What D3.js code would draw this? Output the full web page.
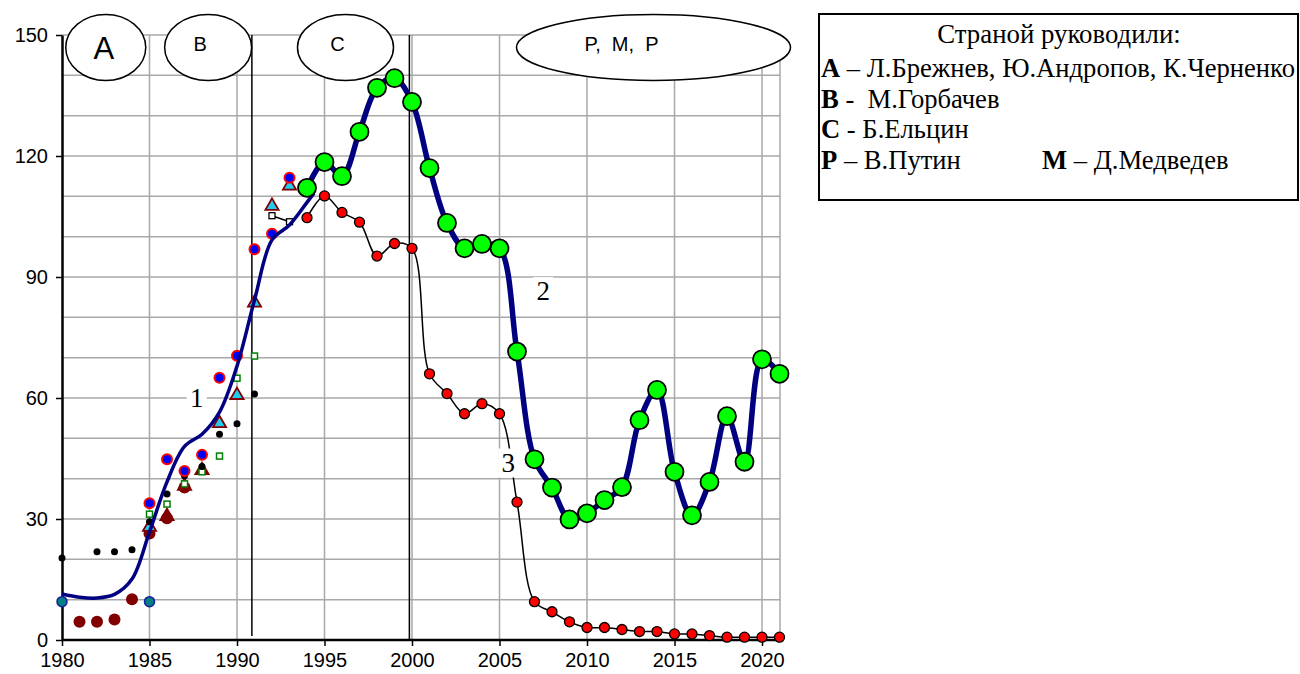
<!DOCTYPE html>
<html lang="ru">
<head>
<meta charset="UTF-8">
<script src="https://d3js.org/d3.v7.min.js"></script>
<title>Chart</title>
<style>
  body { margin: 0; background: #fff; }
  svg { display: block; }
  .serif { font-family: "Liberation Serif", "Times New Roman", serif; fill: #000; }
  .sans { font-family: "Liberation Sans", Arial, sans-serif; fill: #000; white-space: pre; }
</style>
</head>
<body>
<svg id="chart" width="1300" height="674"></svg>
<script>
// ---- data ----
// curve 1 (navy, no markers)
const curve1Years  = [1980, 1981, 1982, 1983, 1984, 1985, 1986, 1987, 1988, 1989, 1990, 1991, 1992, 1993, 1994, 1994.4];
const curve1Values = [11.4, 10.6, 10.4, 11.3, 15.1, 26.8, 39.2, 48, 51, 56.5, 67.9, 84.3, 99.2, 102.9, 108.5, 110.8];

// series 2 (green circles, thick navy line)
const s2Years  = d3.range(1994, 2022);
const s2Values = [112.1, 118.5, 115.0, 126.0, 136.9, 139.3, 133.4, 117.0, 103.4, 97.1, 98.2, 97.1,
                  71.5, 44.8, 37.8, 29.9, 31.4, 34.7, 37.9, 54.5, 62.0, 41.7, 30.9, 39.2, 55.5, 44.2, 69.6, 66.0];

// series 3 (small red circles, thin black line)
const s3Years  = d3.range(1994, 2022);
const s3Values = [104.7, 110.1, 106.0, 103.6, 95.2, 98.3, 97.1, 66.0, 61.1, 56.1, 58.6, 56.1,
                  34.2, 9.5, 7.0, 4.5, 3.1, 3.1, 2.6, 2.1, 2.1, 1.5, 1.5, 1.1, 0.7, 0.7, 0.7, 0.7];

// early scattered estimates
const blueYears  = [1985, 1986, 1987, 1988, 1989, 1990, 1991, 1992, 1993];
const blueValues = [33.9, 44.8, 41.9, 45.9, 65.0, 70.5, 96.9, 100.7, 114.6];

const cyanTriYears  = [1985, 1989, 1990, 1991, 1992, 1993];
const cyanTriValues = [28.0, 53.7, 60.7, 83.6, 107.6, 112.6];

const darkTriYears  = [1986, 1987, 1988];
const darkTriValues = [30.7, 38.2, 42.1];

const darkDotYears  = [1981, 1982, 1983, 1984, 1985, 1986, 1987];
const darkDotValues = [4.5, 4.5, 5.1, 10.1, 26.4, 30.2, 37.8];

const tealYears  = [1980, 1985];
const tealValues = [9.5, 9.5];

const blackDotYears  = [1980, 1982, 1983, 1984, 1985, 1986, 1987, 1988, 1989, 1990, 1991];
const blackDotValues = [20.3, 21.9, 21.9, 22.4, 29.3, 36.2, 40.7, 43.0, 51.0, 53.6, 61.0];

const greenSqYears  = [1985, 1986, 1987, 1988, 1989, 1990, 1991];
const greenSqValues = [31.2, 33.7, 38.7, 41.7, 45.6, 64.9, 70.4];

const blackSqYears  = [1992, 1993];
const blackSqValues = [105.2, 103.7];

const xTicks = d3.range(1980, 2021, 5);
const yTicks = d3.range(0, 151, 30);
const dividerYears = [1990.85, 1999.85];

const curveLabels = [
  {text: "1", year: 1987.7, value: 60},
  {text: "2", year: 2007.5, value: 86.5},
  {text: "3", year: 2005.5, value: 44}
];

const periods = [
  {text: "A", year: 1982.5, rx: 40, size: 31},
  {text: "B", year: 1988.35, rx: 43.5, size: 20},
  {text: "C", year: 1996.2, rx: 48, size: 20},
  {text: "P,  M,  P", year: 2013.8, rx: 137, size: 20}
];

const legendTitle = "Страной руководили:";
const legendRows = [
  [{b: "А", t: " – Л.Брежнев, Ю.Андропов, К.Черненко"}],
  [{b: "В", t: " -  М.Горбачев"}],
  [{b: "С", t: " - Б.Ельцин"}],
  [{b: "Р", t: " – В.Путин"}, {b: "М", t: " – Д.Медведев"}]
];

// ---- layout ----
const svg = d3.select("svg#chart");
const x = d3.scaleLinear().domain([1980, 2021]).range([62, 779.5]);
const y = d3.scaleLinear().domain([0, 150]).range([640, 35]);

const zip = (xs, vs) => xs.map((d, i) => ({year: d, value: vs[i]}));

// grid
const grid = svg.append("g").attr("stroke", "#a8a8a8").attr("stroke-width", 1.5);
grid.selectAll("line.h").data(d3.range(10, 151, 10)).join("line")
    .attr("x1", x(1980)).attr("x2", x(2021) + 0.5)
    .attr("y1", d => y(d)).attr("y2", d => y(d));
grid.selectAll("line.v").data(xTicks.slice(1).concat([2021])).join("line")
    .attr("x1", d => x(d) + (d === 2021 ? 0.5 : 0)).attr("x2", d => x(d) + (d === 2021 ? 0.5 : 0))
    .attr("y1", y(150)).attr("y2", y(0));

// divider lines
svg.append("g").selectAll("line").data(dividerYears).join("line")
    .attr("x1", d => x(d)).attr("x2", d => x(d))
    .attr("y1", y(150)).attr("y2", (d, i) => i === 0 ? y(1) : y(0))
    .attr("stroke", "#000").attr("stroke-width", 1.5);

// ellipses
const per = svg.append("g");
per.selectAll("ellipse").data(periods).join("ellipse")
    .attr("cx", d => x(d.year)).attr("cy", 47.5)
    .attr("rx", d => d.rx).attr("ry", 33)
    .attr("fill", "#fff").attr("stroke", "#000").attr("stroke-width", 1.5);
per.selectAll("text").data(periods).join("text")
    .attr("class", "sans")
    .attr("x", (d, i) => x(d.year) - (i === 0 ? 2 : 8) - (i === 3 ? 24 : 0))
    .attr("y", (d, i) => i === 0 ? 59 : 51)
    .attr("text-anchor", "middle")
    .attr("font-size", d => d.size)
    .text(d => d.text);

// axes
const xAxis = svg.append("g").attr("transform", `translate(0,${y(0)})`)
    .call(d3.axisBottom(x).tickValues(xTicks).tickFormat(d3.format("d")).tickSize(6).tickSizeOuter(0));
const yAxis = svg.append("g").attr("transform", `translate(${x(1980)},0)`)
    .call(d3.axisLeft(y).tickValues(yTicks).tickSize(6).tickSizeOuter(0));
[xAxis, yAxis].forEach(g => {
  g.attr("font-size", 20).attr("font-family", "'Liberation Sans', Arial, sans-serif");
  g.select(".domain").attr("stroke", "#000").attr("stroke-width", 2.5);
  g.selectAll(".tick line").attr("stroke", "#000").attr("stroke-width", 1.5);
  g.selectAll(".tick text").attr("fill", "#000")
    .style("font-size", "20px").style("font-family", "'Liberation Sans', Arial, sans-serif");
});
xAxis.select(".domain").attr("d", `M${x(1980)},0H${x(2021) + 1}`);
xAxis.selectAll(".tick text").attr("dy", "0.71em").attr("y", 13);
yAxis.selectAll(".tick text").attr("x", -14).attr("dy", "0.3em");

// early markers
const early = svg.append("g");
early.selectAll("circle.teal").data(zip(tealYears, tealValues)).join("circle")
    .attr("cx", d => x(d.year)).attr("cy", d => y(d.value)).attr("r", 5)
    .attr("fill", "#008080").attr("stroke", "#1a1aa0").attr("stroke-width", 1.5);
early.selectAll("circle.dark").data(zip(darkDotYears, darkDotValues)).join("circle")
    .attr("cx", d => x(d.year)).attr("cy", d => y(d.value)).attr("r", 6)
    .attr("fill", "#800000");
const tri = d3.symbol().type(d3.symbolTriangle).size(75);
early.selectAll("path.ctri").data(zip(cyanTriYears, cyanTriValues)).join("path")
    .attr("d", tri).attr("transform", d => `translate(${x(d.year)},${y(d.value)})`)
    .attr("fill", "#22ccf0").attr("stroke", "#800000").attr("stroke-width", 1.8);
early.selectAll("path.dtri").data(zip(darkTriYears, darkTriValues)).join("path")
    .attr("d", tri).attr("transform", d => `translate(${x(d.year)},${y(d.value)})`)
    .attr("fill", "#800000").attr("stroke", "#800000").attr("stroke-width", 1.8);
early.selectAll("rect.gsq").data(zip(greenSqYears, greenSqValues)).join("rect")
    .attr("x", d => x(d.year) - 3).attr("y", d => y(d.value) - 3)
    .attr("width", 6).attr("height", 6)
    .attr("fill", "#fff").attr("stroke", "#008000").attr("stroke-width", 1.5);
early.selectAll("circle.black").data(zip(blackDotYears, blackDotValues)).join("circle")
    .attr("cx", d => x(d.year)).attr("cy", d => y(d.value)).attr("r", 3.5)
    .attr("fill", "#000");
early.selectAll("circle.blue").data(zip(blueYears, blueValues)).join("circle")
    .attr("cx", d => x(d.year)).attr("cy", d => y(d.value)).attr("r", 5)
    .attr("fill", "#0000ff").attr("stroke", "#ff0000").attr("stroke-width", 2);

const blackSq = zip(blackSqYears, blackSqValues);
early.append("path").datum(blackSq)
    .attr("d", d3.line().x(d => x(d.year)).y(d => y(d.value)))
    .attr("fill", "none").attr("stroke", "#000").attr("stroke-width", 1.5);
early.selectAll("rect.bsq").data(blackSq).join("rect")
    .attr("x", d => x(d.year) - 3).attr("y", d => y(d.value) - 3)
    .attr("width", 6).attr("height", 6)
    .attr("fill", "#fff").attr("stroke", "#000").attr("stroke-width", 1.3);

// curve 1
const smooth = d3.line().x(d => x(d.year)).y(d => y(d.value)).curve(d3.curveCatmullRom.alpha(0.5));
svg.append("path").datum(zip(curve1Years, curve1Values))
    .attr("d", smooth)
    .attr("fill", "none").attr("stroke", "#000080").attr("stroke-width", 3.5);

// series 3
const s3 = zip(s3Years, s3Values);
svg.append("path").datum(s3).attr("d", smooth)
    .attr("fill", "none").attr("stroke", "#000").attr("stroke-width", 1.5);
svg.append("g").selectAll("circle").data(s3).join("circle")
    .attr("cx", d => x(d.year)).attr("cy", d => y(d.value)).attr("r", 5)
    .attr("fill", "#ff0000").attr("stroke", "#000").attr("stroke-width", 1.3);

// series 2
const s2 = zip(s2Years, s2Values);
svg.append("path").datum(s2).attr("d", smooth)
    .attr("fill", "none").attr("stroke", "#000080").attr("stroke-width", 5.5);
svg.append("g").selectAll("circle").data(s2).join("circle")
    .attr("cx", d => x(d.year)).attr("cy", d => y(d.value)).attr("r", 9)
    .attr("fill", "#00ff00").attr("stroke", "#000").attr("stroke-width", 1.8);

// curve labels
const cl = svg.append("g").selectAll("g").data(curveLabels).join("g")
    .attr("transform", d => `translate(${x(d.year)},${y(d.value)})`);
cl.append("rect").attr("x", -10).attr("y", -14).attr("width", 20).attr("height", 29).attr("fill", "#fff");
cl.append("text").attr("class", "serif").attr("font-size", 27)
    .attr("text-anchor", "middle").attr("y", 9).text(d => d.text);

// legend box
const lg = svg.append("g");
lg.append("rect").attr("x", 819).attr("y", 14).attr("width", 479).attr("height", 186)
    .attr("fill", "#fff").attr("stroke", "#000").attr("stroke-width", 2);
lg.append("text").attr("class", "serif").attr("font-size", 26.8)
    .attr("x", 1059).attr("y", 43).attr("text-anchor", "middle").text(legendTitle);
legendRows.forEach((row, i) => {
  row.forEach((part, j) => {
    const t = lg.append("text").attr("class", "serif").attr("font-size", 26.6)
        .attr("x", j === 0 ? 821 : 1042).attr("y", 77 + i * 30.5)
        .style("white-space", "pre");
    t.append("tspan").attr("font-weight", "bold").text(part.b);
    t.append("tspan").text(part.t);
  });
});
</script>
</body>
</html>
